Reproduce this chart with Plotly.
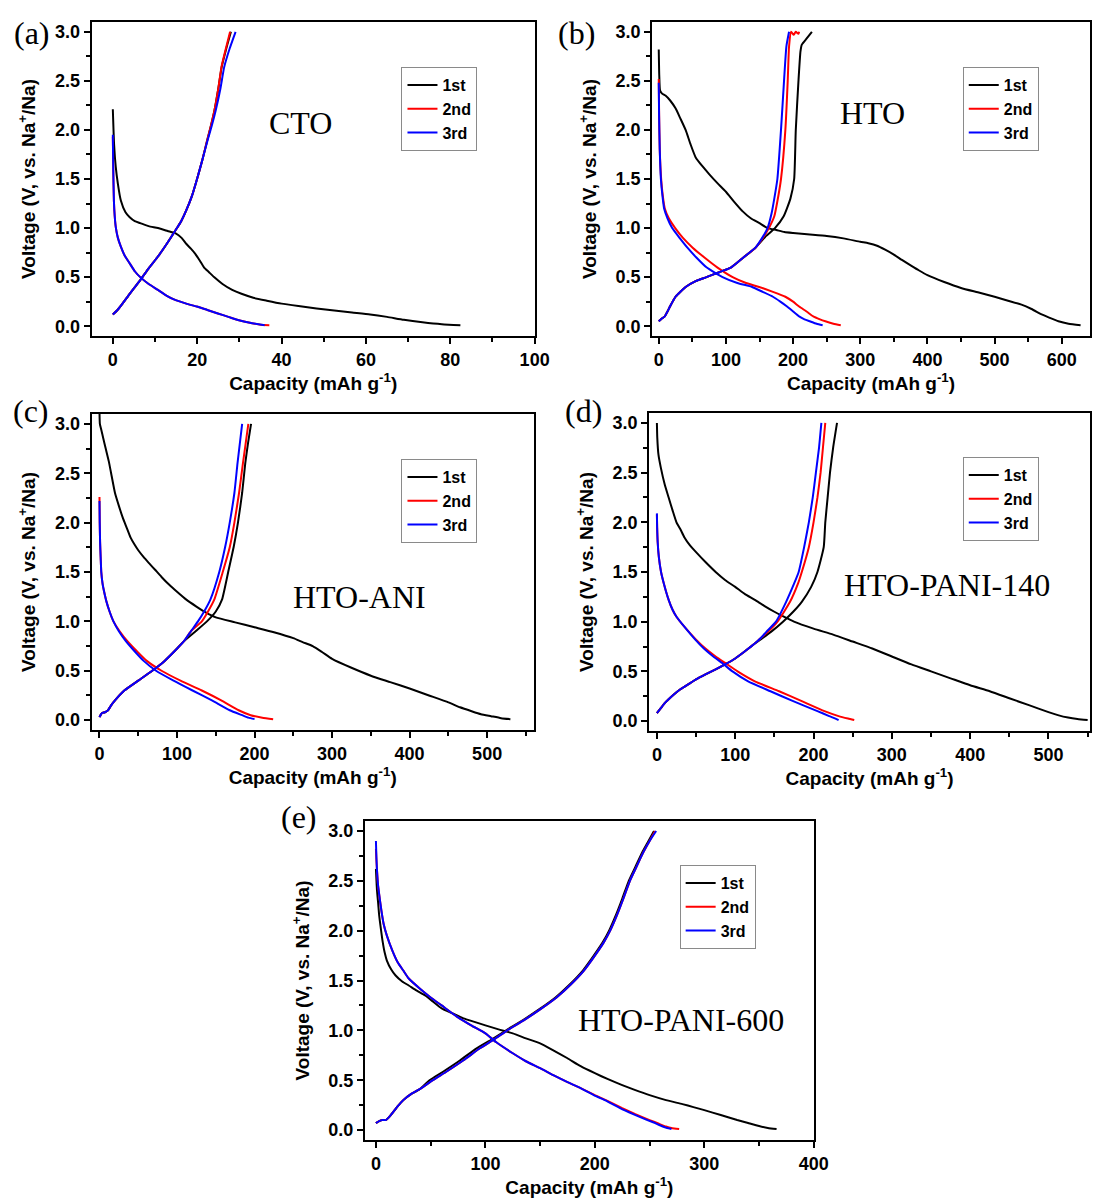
import plotly.graph_objects as go

W, H = 1105, 1198

# ---------------- data: panel (a) CTO ----------------
a1_dis_x = [0, 0.3, 0.7, 1.2, 1.9, 3, 4, 5.2, 6.5, 8.5, 10.7, 13, 14.9, 16.3, 17.4, 18.5, 19.5, 20.6, 21.6, 22.8, 24, 26, 28.3, 30.5, 33.3, 36.5, 40, 44, 48.3, 52.5, 56.7, 61, 65, 69, 73.4, 78, 82.4]
a1_dis_y = [2.21, 1.85, 1.62, 1.45, 1.28, 1.16, 1.11, 1.07, 1.05, 1.02, 1.0, 0.97, 0.945, 0.9, 0.84, 0.79, 0.74, 0.67, 0.6, 0.55, 0.5, 0.43, 0.37, 0.33, 0.29, 0.26, 0.23, 0.205, 0.18, 0.16, 0.14, 0.12, 0.095, 0.065, 0.04, 0.02, 0.01]
a1_chg_x = [0, 1, 2.3, 4, 6.5, 8.5, 10.7, 12.8, 14.9, 16.2, 17.4, 18.7, 19.9, 21.2, 22.4, 23.3, 24.1, 25.0, 25.8, 26.9, 28.0]
a1_chg_y = [0.12, 0.16, 0.23, 0.33, 0.47, 0.59, 0.71, 0.84, 0.98, 1.07, 1.18, 1.32, 1.49, 1.69, 1.9, 2.05, 2.2, 2.42, 2.64, 2.83, 3.0]
a2_dis_x = [0, 0.1, 0.25, 0.45, 0.7, 1.2, 1.9, 2.8, 4, 5.2, 6.5, 8.5, 10.7, 12.8, 14.9, 17.4, 19.9, 22.4, 24.9, 27.4, 29.9, 32.5, 35, 37.1]
a2_dis_y = [1.93, 1.6, 1.28, 1.12, 1.01, 0.9, 0.81, 0.72, 0.64, 0.56, 0.5, 0.43, 0.37, 0.31, 0.265, 0.23, 0.2, 0.165, 0.13, 0.095, 0.06, 0.035, 0.015, 0.01]
a2_chg_x = [0, 1, 2.3, 4, 6.5, 8.5, 10.7, 12.8, 14.9, 16.2, 17.4, 18.7, 19.9, 21.2, 22.4, 23.3, 24.1, 25, 25.75, 26.8, 27.8]
a2_chg_y = [0.12, 0.16, 0.23, 0.33, 0.47, 0.59, 0.71, 0.84, 0.98, 1.07, 1.18, 1.32, 1.49, 1.69, 1.9, 2.05, 2.2, 2.42, 2.64, 2.83, 3.0]
a3_dis_x = [0, 0.1, 0.25, 0.45, 0.7, 1.2, 1.9, 2.8, 4, 5.2, 6.5, 8.5, 10.7, 12.8, 14.9, 17.4, 19.9, 22.4, 24.9, 27.4, 29.9, 32.5, 36.0]
a3_dis_y = [1.95, 1.6, 1.28, 1.12, 1.01, 0.9, 0.81, 0.72, 0.64, 0.56, 0.5, 0.43, 0.37, 0.31, 0.265, 0.23, 0.2, 0.165, 0.13, 0.095, 0.06, 0.035, 0.01]
a3_chg_x = [0, 1, 2.3, 4, 6.5, 8.5, 10.7, 12.8, 14.9, 16.2, 17.4, 18.7, 19.9, 21.2, 22.5, 23.5, 24.4, 25.5, 26.4, 27.7, 29.1]
a3_chg_y = [0.12, 0.16, 0.23, 0.33, 0.47, 0.59, 0.71, 0.84, 0.98, 1.07, 1.18, 1.32, 1.49, 1.69, 1.9, 2.05, 2.2, 2.42, 2.64, 2.83, 3.0]

# ---------------- data: panel (b) HTO ----------------
b1_dis_x = [0, 0.8, 2, 5, 10, 17, 25, 32, 40, 47, 55, 65, 75, 87, 100, 112, 125, 137, 150, 162, 175, 187, 200, 225, 250, 275, 300, 312, 325, 337, 350, 362, 375, 387, 400, 425, 450, 475, 500, 520, 540, 555, 570, 582, 595, 610, 628]
b1_dis_y = [2.82, 2.55, 2.4, 2.37, 2.35, 2.3, 2.22, 2.12, 2.0, 1.86, 1.72, 1.63, 1.55, 1.46, 1.37, 1.27, 1.17, 1.1, 1.05, 1.0, 0.98, 0.96, 0.95, 0.935, 0.92, 0.895, 0.86, 0.845, 0.82, 0.78, 0.73, 0.675, 0.62, 0.57, 0.52, 0.45, 0.39, 0.345, 0.3, 0.26, 0.22, 0.175, 0.12, 0.085, 0.05, 0.025, 0.01]
b1_chg_x = [0, 5, 9, 13, 16.7, 25, 40, 55, 71, 90, 108, 126, 144, 160, 173, 186, 196, 201.6, 204, 208, 211, 213, 220, 228]
b1_chg_y = [0.05, 0.08, 0.1, 0.15, 0.2, 0.3, 0.4, 0.46, 0.5, 0.55, 0.6, 0.7, 0.8, 0.92, 1.0, 1.12, 1.3, 1.5, 2.0, 2.5, 2.8, 2.87, 2.93, 3.0]
b2_dis_x = [0, 0.5, 1.5, 3.6, 6, 9, 15, 24.5, 36, 50.5, 68, 87, 110, 130, 149.5, 170, 188.5, 200, 209, 220, 230, 240, 248, 260, 271]
b2_dis_y = [2.52, 2.2, 1.8, 1.5, 1.33, 1.2, 1.1, 1.0, 0.9, 0.8, 0.7, 0.6, 0.5, 0.44, 0.4, 0.35, 0.3, 0.25, 0.2, 0.15, 0.1, 0.07, 0.05, 0.025, 0.01]
b2_chg_x = [0, 5, 9, 13, 16.7, 25, 40, 55, 71, 90, 108, 126, 144, 155, 164, 172, 176, 182, 188.5, 192, 194, 197, 201, 204, 208, 209]
b2_chg_y = [0.05, 0.08, 0.1, 0.15, 0.2, 0.3, 0.4, 0.46, 0.5, 0.55, 0.6, 0.7, 0.8, 0.9, 1.0, 1.12, 1.25, 1.5, 2.0, 2.5, 2.85, 3.0, 2.97, 3.0, 2.98, 3.0]
b3_dis_x = [0, 0.5, 1.5, 3.2, 5.5, 8, 13, 20, 31, 42.7, 56, 71, 95, 117, 139, 154.7, 170, 181, 191, 200, 209, 217, 225, 235, 244]
b3_dis_y = [2.48, 2.15, 1.8, 1.5, 1.33, 1.2, 1.1, 1.0, 0.9, 0.8, 0.7, 0.6, 0.5, 0.44, 0.4, 0.35, 0.3, 0.25, 0.2, 0.15, 0.1, 0.07, 0.05, 0.025, 0.01]
b3_chg_x = [0, 5, 9, 13, 16.7, 25, 40, 55, 71, 90, 108, 126, 144, 154, 162, 168, 172, 176.6, 182, 186.5, 190, 194]
b3_chg_y = [0.05, 0.08, 0.1, 0.15, 0.2, 0.3, 0.4, 0.46, 0.5, 0.55, 0.6, 0.7, 0.8, 0.9, 1.0, 1.15, 1.3, 1.5, 2.0, 2.5, 2.85, 3.0]

# ---------------- data: panel (c) HTO-ANI ----------------
c1_dis_x = [0, 0.5, 2, 5, 8, 12, 15, 20, 25, 30, 35, 40, 45, 50, 57, 65, 72, 80, 90, 100, 112, 125, 137, 150, 175, 200, 225, 250, 262, 275, 287, 300, 325, 350, 375, 400, 425, 450, 465, 480, 492, 505, 518, 530]
c1_dis_y = [3.12, 3.0, 2.95, 2.85, 2.75, 2.62, 2.5, 2.3, 2.17, 2.05, 1.95, 1.85, 1.78, 1.72, 1.65, 1.58, 1.52, 1.45, 1.37, 1.3, 1.22, 1.15, 1.09, 1.04, 0.99, 0.94, 0.89, 0.83, 0.79, 0.75, 0.69, 0.62, 0.53, 0.45, 0.385, 0.32, 0.25, 0.18, 0.13, 0.09, 0.06, 0.04, 0.02, 0.01]
c1_chg_x = [0, 3, 7, 11, 15, 20, 32, 50, 68, 84, 97, 109, 124, 138.6, 150, 158, 166, 173, 178.6, 184, 188, 191.5, 195.5]
c1_chg_y = [0.03, 0.07, 0.08, 0.1, 0.15, 0.2, 0.3, 0.4, 0.5, 0.6, 0.7, 0.8, 0.9, 1.0, 1.1, 1.22, 1.5, 1.75, 2.0, 2.3, 2.6, 2.8, 3.0]
c2_dis_x = [0, 0.3, 0.8, 1.5, 2.3, 4, 6, 9, 13, 18, 26, 36, 48, 61, 80, 104.5, 132, 157, 179.5, 195, 210, 224]
c2_dis_y = [2.26, 2.0, 1.8, 1.65, 1.5, 1.38, 1.3, 1.2, 1.1, 1.0, 0.9, 0.8, 0.7, 0.6, 0.5, 0.4, 0.3, 0.2, 0.1, 0.05, 0.025, 0.01]
c2_chg_x = [0, 3, 7, 11, 15, 20, 32, 50, 68, 84, 97, 109, 118, 132, 140, 148, 159, 168, 174, 180, 185, 188.5, 192]
c2_chg_y = [0.03, 0.07, 0.08, 0.1, 0.15, 0.2, 0.3, 0.4, 0.5, 0.6, 0.7, 0.8, 0.9, 1.0, 1.1, 1.22, 1.5, 1.75, 2.0, 2.3, 2.6, 2.8, 3.0]
c3_dis_x = [0, 0.3, 0.8, 1.5, 2.3, 4, 6, 9, 13, 18, 25, 34, 45, 57, 73, 95.5, 120, 145, 168, 184, 192, 200]
c3_dis_y = [2.22, 2.0, 1.8, 1.65, 1.5, 1.38, 1.3, 1.2, 1.1, 1.0, 0.9, 0.8, 0.7, 0.6, 0.5, 0.4, 0.3, 0.2, 0.1, 0.05, 0.025, 0.01]
c3_chg_x = [0, 3, 7, 11, 15, 20, 32, 50, 68, 84, 97, 109, 118, 127, 135, 143, 154.5, 162, 168, 174, 178, 181, 184]
c3_chg_y = [0.03, 0.07, 0.08, 0.1, 0.15, 0.2, 0.3, 0.4, 0.5, 0.6, 0.7, 0.8, 0.9, 1.0, 1.1, 1.22, 1.5, 1.75, 2.0, 2.3, 2.6, 2.8, 3.0]

# ---------------- data: panel (d) HTO-PANI-140 ----------------
d1_dis_x = [0, 0.5, 2, 5, 10, 15, 20, 25, 30, 35, 42, 50, 62, 75, 87, 100, 112, 125, 137, 150, 162, 175, 200, 225, 250, 275, 300, 325, 350, 375, 400, 425, 450, 475, 500, 512, 525, 537, 550]
d1_dis_y = [3.0, 2.85, 2.68, 2.55, 2.38, 2.25, 2.12, 2.0, 1.93, 1.85, 1.77, 1.7, 1.6, 1.5, 1.42, 1.35, 1.28, 1.22, 1.16, 1.1, 1.05, 1.0, 0.93, 0.87, 0.8, 0.73, 0.65, 0.57, 0.5, 0.43, 0.36, 0.3, 0.23, 0.16, 0.09, 0.06, 0.035, 0.02, 0.01]
d1_chg_x = [0, 2, 5, 10, 15, 22, 30, 40, 50, 62, 75, 87, 100, 112, 125, 132, 146, 161, 174, 185, 197, 205, 213, 215, 218, 221, 225, 230]
d1_chg_y = [0.08, 0.1, 0.13, 0.18, 0.22, 0.27, 0.32, 0.37, 0.42, 0.47, 0.52, 0.57, 0.63, 0.7, 0.78, 0.82, 0.9, 1.0, 1.1, 1.2, 1.35, 1.5, 1.75, 2.0, 2.25, 2.5, 2.75, 3.0]
d2_dis_x = [0, 0.3, 1, 2.5, 5.3, 9, 15, 20, 25, 35, 50, 62, 75, 88, 103, 125, 156, 185, 214, 232, 244, 252]
d2_dis_y = [2.08, 1.95, 1.8, 1.65, 1.5, 1.38, 1.22, 1.12, 1.05, 0.95, 0.82, 0.73, 0.65, 0.58, 0.5, 0.4, 0.3, 0.2, 0.1, 0.05, 0.025, 0.01]
d2_chg_x = [0, 2, 5, 10, 15, 22, 30, 40, 50, 62, 75, 87, 100, 112, 125, 132, 142, 154, 170, 180, 185, 194, 200, 205, 209, 212, 215]
d2_chg_y = [0.08, 0.1, 0.13, 0.18, 0.22, 0.27, 0.32, 0.37, 0.42, 0.47, 0.52, 0.57, 0.63, 0.7, 0.78, 0.83, 0.9, 1.0, 1.2, 1.38, 1.5, 1.75, 2.0, 2.25, 2.5, 2.75, 3.0]
d3_dis_x = [0, 0.3, 1, 2.5, 5.3, 9, 15, 20, 25, 35, 49, 60, 72, 84, 96.5, 116.5, 145, 174, 205, 220, 228, 232]
d3_dis_y = [2.09, 1.95, 1.8, 1.65, 1.5, 1.38, 1.22, 1.12, 1.05, 0.95, 0.82, 0.73, 0.65, 0.58, 0.5, 0.4, 0.3, 0.2, 0.1, 0.05, 0.025, 0.01]
d3_chg_x = [0, 2, 5, 10, 15, 22, 30, 40, 50, 62, 75, 87, 100, 112, 125, 132, 140, 152, 165, 175, 181, 188, 194, 199, 203, 207, 210]
d3_chg_y = [0.08, 0.1, 0.13, 0.18, 0.22, 0.27, 0.32, 0.37, 0.42, 0.47, 0.52, 0.57, 0.63, 0.7, 0.78, 0.83, 0.9, 1.0, 1.2, 1.38, 1.5, 1.75, 2.0, 2.25, 2.5, 2.75, 3.0]

# ---------------- data: panel (e) HTO-PANI-600 ----------------
e1_dis_x = [0, 0.5, 1, 2, 3, 4.5, 6, 8, 10, 14, 18, 24, 30, 37, 45, 52, 60, 70, 80, 90, 100, 112, 125, 137, 150, 162, 175, 187, 200, 212, 225, 237, 250, 265, 280, 290, 300, 315, 330, 340, 350, 358, 366]
e1_dis_y = [2.62, 2.5, 2.4, 2.28, 2.15, 2.02, 1.9, 1.78, 1.7, 1.61, 1.55, 1.49, 1.45, 1.4, 1.35, 1.29, 1.22, 1.17, 1.12, 1.085, 1.05, 1.01, 0.97, 0.92, 0.87, 0.8, 0.72, 0.64, 0.57, 0.51, 0.45, 0.4, 0.35, 0.3, 0.26, 0.23, 0.2, 0.15, 0.1, 0.07, 0.04, 0.02, 0.01]
e1_chg_x = [0, 3, 6, 9, 12, 15, 20, 25, 32, 40, 49, 62, 77, 92, 106, 119, 134, 149, 164, 177, 189, 199, 207, 213, 219, 225, 231, 237, 243, 249, 254]
e1_chg_y = [0.07, 0.09, 0.1, 0.1, 0.13, 0.17, 0.24, 0.3, 0.36, 0.41, 0.5, 0.59, 0.7, 0.82, 0.91, 1.0, 1.1, 1.21, 1.33, 1.46, 1.6, 1.75, 1.88, 2.0, 2.15, 2.32, 2.5, 2.64, 2.78, 2.9, 3.0]
e2_dis_x = [0, 0.5, 1, 2, 3.5, 5, 7, 10, 15, 20, 25, 30, 40, 50, 60, 75, 87, 100, 110, 125, 137, 150, 162, 175, 187, 200, 212, 225, 237, 250, 258, 265, 270, 277]
e2_dis_y = [2.82, 2.7, 2.6, 2.45, 2.32, 2.2, 2.07, 1.95, 1.8, 1.68, 1.6, 1.52, 1.42, 1.33, 1.25, 1.13, 1.05, 0.97, 0.88, 0.77, 0.69, 0.62, 0.55, 0.48, 0.42, 0.35, 0.29, 0.22, 0.16, 0.1, 0.065, 0.035, 0.02, 0.01]
e2_chg_x = [0, 3, 6, 9, 12, 15, 20, 25, 32, 40, 52, 65, 80, 95, 108, 120, 135, 150, 165, 178, 190, 200, 208, 214, 220, 226, 232, 238, 244, 250, 255]
e2_chg_y = [0.07, 0.09, 0.1, 0.1, 0.13, 0.17, 0.24, 0.3, 0.36, 0.41, 0.5, 0.59, 0.7, 0.82, 0.91, 1.0, 1.1, 1.21, 1.33, 1.46, 1.6, 1.75, 1.88, 2.0, 2.15, 2.32, 2.5, 2.64, 2.78, 2.9, 3.0]
e3_dis_x = [0, 0.5, 1, 2, 3.5, 5, 7, 10, 15, 20, 25, 30, 40, 50, 60, 75, 87, 100, 110, 125, 137, 150, 162, 175, 187, 199, 211, 223, 235, 248, 256, 262, 266, 270]
e3_dis_y = [2.9, 2.72, 2.6, 2.45, 2.32, 2.2, 2.07, 1.95, 1.8, 1.68, 1.6, 1.52, 1.42, 1.33, 1.25, 1.13, 1.05, 0.97, 0.88, 0.77, 0.69, 0.62, 0.55, 0.48, 0.42, 0.35, 0.29, 0.22, 0.16, 0.1, 0.065, 0.035, 0.02, 0.01]
e3_chg_x = [0, 3, 6, 9, 12, 15, 20, 25, 32, 40, 52, 65, 80, 95, 108, 120, 135, 150, 165, 178, 190, 200, 208, 214, 220, 226, 232, 238, 244, 250, 256]
e3_chg_y = [0.07, 0.09, 0.1, 0.1, 0.13, 0.17, 0.24, 0.3, 0.36, 0.41, 0.5, 0.59, 0.7, 0.82, 0.91, 1.0, 1.1, 1.21, 1.33, 1.46, 1.6, 1.75, 1.88, 2.0, 2.15, 2.32, 2.5, 2.64, 2.78, 2.9, 3.0]

cycle_names = ["1st", "2nd", "3rd"]
cycle_colors = ["#000000", "#FF0000", "#0000FF"]
sample_names = ["CTO", "HTO", "HTO-ANI", "HTO-PANI-140", "HTO-PANI-600"]
panel_tags = ["(a)", "(b)", "(c)", "(d)", "(e)"]

panels = [
    [(a1_dis_x, a1_dis_y, a1_chg_x, a1_chg_y), (a2_dis_x, a2_dis_y, a2_chg_x, a2_chg_y), (a3_dis_x, a3_dis_y, a3_chg_x, a3_chg_y)],
    [(b1_dis_x, b1_dis_y, b1_chg_x, b1_chg_y), (b2_dis_x, b2_dis_y, b2_chg_x, b2_chg_y), (b3_dis_x, b3_dis_y, b3_chg_x, b3_chg_y)],
    [(c1_dis_x, c1_dis_y, c1_chg_x, c1_chg_y), (c2_dis_x, c2_dis_y, c2_chg_x, c2_chg_y), (c3_dis_x, c3_dis_y, c3_chg_x, c3_chg_y)],
    [(d1_dis_x, d1_dis_y, d1_chg_x, d1_chg_y), (d2_dis_x, d2_dis_y, d2_chg_x, d2_chg_y), (d3_dis_x, d3_dis_y, d3_chg_x, d3_chg_y)],
    [(e1_dis_x, e1_dis_y, e1_chg_x, e1_chg_y), (e2_dis_x, e2_dis_y, e2_chg_x, e2_chg_y), (e3_dis_x, e3_dis_y, e3_chg_x, e3_chg_y)],
]

# ---------------- layout geometry (pixels) ----------------
# (left, right, top, bottom) of each plot frame
frames = [(93, 542, 22, 336), (661, 1105, 22, 336), (93, 541, 414, 730), (658, 1105, 413, 731), (370, 825, 821, 1140)]
x_ranges = [[-5, 100], [-10, 642], [-10, 560], [-10, 553], [-10, 400]]
x_dticks = [20, 100, 100, 100, 100]
tag_pos = [(32, 33), (584, 33), (31, 411), (592, 411), (303, 817)]
sample_pos = [(44.6, 2.07), (318, 2.17), (335, 1.25), (371, 1.37), (279, 1.1)]
legend_pos = [(407, 67), (976, 67), (407, 459), (976, 457), (689, 865)]

SANS = "Liberation Sans, Arial, sans-serif"
SERIF = "Liberation Serif, Times New Roman, serif"

fig = go.Figure()
for p, cycles in enumerate(panels):
    sfx = "" if p == 0 else str(p + 1)
    for c, (dx, dy, cx, cy) in enumerate(cycles):
        fig.add_trace(go.Scatter(
            x=list(dx) + [None] + list(cx),
            y=list(dy) + [None] + list(cy),
            mode="lines", name=cycle_names[c],
            line=dict(color=cycle_colors[c], width=2, shape="spline", smoothing=0.5),
            xaxis="x" + sfx, yaxis="y" + sfx, legend="legend" + sfx,
            connectgaps=False, showlegend=True,
        ))

layout = dict(
    width=W, height=H, margin=dict(l=0, r=0, t=0, b=0),
    paper_bgcolor="white", plot_bgcolor="white", showlegend=True,
)
annotations = []
for p in range(5):
    sfx = "" if p == 0 else str(p + 1)
    l, r, t, b = frames[p]
    common = dict(showline=True, linecolor="black", linewidth=2, mirror=True,
                  ticks="outside", ticklen=6, tickwidth=2, tickcolor="black",
                  showgrid=False, zeroline=False,
                  tickfont=dict(family=SANS, size=18, color="black", weight="bold"))
    layout["xaxis" + sfx] = dict(
        common, domain=[l / W, r / W], anchor="y" + sfx, range=x_ranges[p],
        dtick=x_dticks[p], tick0=0,
        minor=dict(ticks="outside", ticklen=4, tickwidth=1.5, tickcolor="black", dtick=x_dticks[p] / 2),
        title=dict(text="Capacity (mAh g<sup>-1</sup>)", standoff=6,
                   font=dict(family=SANS, size=19, color="black", weight="bold")),
    )
    layout["yaxis" + sfx] = dict(
        common, domain=[1 - b / H, 1 - t / H], anchor="x" + sfx, range=[-0.1, 3.1],
        dtick=0.5, tick0=0, tickformat=".1f",
        minor=dict(ticks="outside", ticklen=4, tickwidth=1.5, tickcolor="black", dtick=0.25),
        title=dict(text="Voltage (V, vs. Na<sup>+</sup>/Na)", standoff=14,
                   font=dict(family=SANS, size=19, color="black", weight="bold")),
    )
    lx, ly = legend_pos[p]
    layout["legend" + sfx] = dict(
        x=lx / W, y=1 - ly / H, xanchor="left", yanchor="top",
        bordercolor="#8a8a8a", borderwidth=1, bgcolor="white",
        font=dict(family=SANS, size=16, color="black", weight="bold"),
        itemwidth=30, tracegroupgap=0,
    )
    tx, ty = tag_pos[p]
    annotations.append(dict(text=panel_tags[p], x=tx / W, y=1 - ty / H, xref="paper", yref="paper",
                            showarrow=False, xanchor="center", yanchor="middle",
                            font=dict(family=SERIF, size=32, color="black")))
    sx, sy = sample_pos[p]
    annotations.append(dict(text=sample_names[p], x=sx, y=sy, xref="x" + sfx, yref="y" + sfx,
                            showarrow=False, xanchor="center", yanchor="middle",
                            font=dict(family=SERIF, size=32, color="black")))
layout["annotations"] = annotations
fig.update_layout(**layout)
fig.write_html("out.html")
